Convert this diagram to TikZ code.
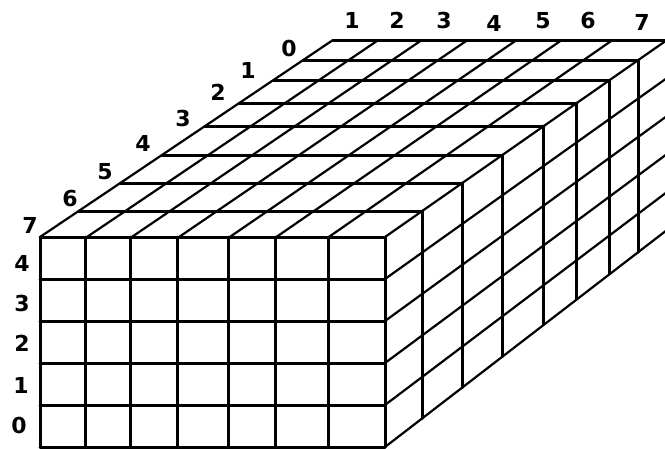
\documentclass[tikz,border=0pt]{standalone}
\usepackage{fontspec}
\setmainfont{DejaVu Sans}
\begin{document}
\begin{tikzpicture}[x=1pt,y=-1pt,
  edge/.style={line width=3pt, line cap=round},
  slant/.style={line width=2.2pt, line cap=round},
  lab/.style={font=\fontsize{22}{22}\selectfont\bfseries, inner sep=0pt}]
\useasboundingbox (0,0) rectangle (665,448);
\begin{scope}
\clip (0,0) rectangle (665,448);
% front face
\foreach \f in {0,0.132,0.262,0.400,0.547,0.683,0.835,1}{
  \draw[edge] ({40+\f*345},237) -- ({40+\f*345},447);
}
\foreach \r in {0,...,5}{
  \draw[edge] (40,{237+\r*42}) -- (385,{237+\r*42});
}
% top face: depth lines
\foreach \y in {211,183,155,126,103,80,60,40}{
  \draw[edge] ({40+(237-\y)*1.4873},\y) -- ({385+(237-\y)*1.4315},\y);
}
% top face: column lines
\foreach \f in {0,0.136,0.266,0.403,0.550,0.685,0.837,1}{
  \draw[slant] ({40+\f*345},237) -- ({333+\f*334},40);
}
% side face: verticals at each depth
\foreach \y in {211,183,155,126,103,80,60}{
  \draw[edge] ({385+(237-\y)*1.4315},\y) -- ++(0,{192+(\y-60)*0.10169});
}
% side face: row lines
\foreach \r in {1,...,5}{
  \draw[slant] (385,{237+\r*42}) -- (667,{40+\r*38});
}
\end{scope}
% depth labels
\node[lab] (d7) at (30,225) {7};
\node[lab] (d6) at (70,198) {6};
\node[lab] (d5) at (105,172) {5};
\node[lab] (d4) at (143,143) {4};
\node[lab] (d3) at (183,118) {3};
\node[lab] (d2) at (218,92) {2};
\node[lab] (d1) at (248,70) {1};
\node[lab] (d0) at (289,48) {0};
% row labels
\node[lab] (r4) at (22,263) {4};
\node[lab] (r3) at (22,303) {3};
\node[lab] (r2) at (22,343) {2};
\node[lab] (r1) at (21,385) {1};
\node[lab] (r0) at (19,425) {0};
% column labels
\node[lab] (c1) at (352,20) {1};
\node[lab] (c2) at (397,20) {2};
\node[lab] (c3) at (444,20) {3};
\node[lab] (c4) at (494,23) {4};
\node[lab] (c5) at (543,21) {5};
\node[lab] (c6) at (588,20) {6};
\node[lab] (c7) at (642,22) {7};
\end{tikzpicture}
\end{document}
